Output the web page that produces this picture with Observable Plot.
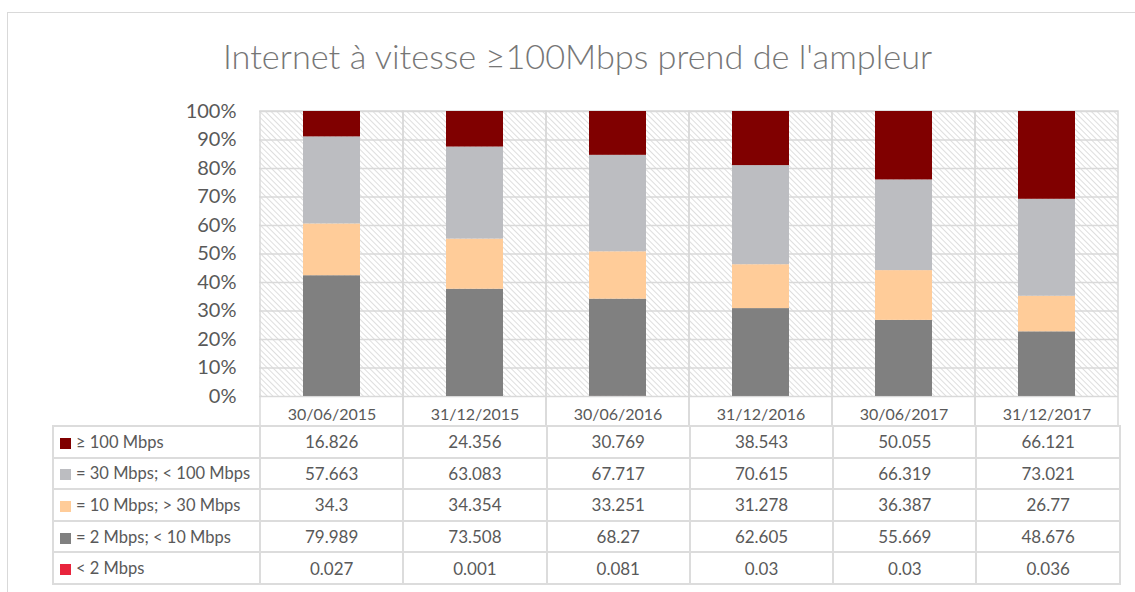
<!DOCTYPE html>
<html><head><meta charset="utf-8">
<script src="https://cdn.jsdelivr.net/npm/d3@7"></script>
<script src="https://cdn.jsdelivr.net/npm/@observablehq/plot@0.6"></script>
<style>
body{margin:0;background:#fff;overflow:hidden;font-family:Lato,"Open Sans",sans-serif;}
#wrap{position:relative;width:1135px;height:592px;overflow:hidden;}
#frame{position:absolute;left:7px;top:12px;width:1200px;height:700px;border:1px solid #d9d9d9;}
#title{position:absolute;left:10px;width:1135px;top:34px;text-align:center;font-size:34.3px;font-weight:300;color:#767676;white-space:nowrap;line-height:44px;}
#chart{position:absolute;left:0;top:90px;}
#tbl{position:absolute;left:52px;top:425px;border-collapse:collapse;table-layout:fixed;font-size:17px;color:#595959;}
#tbl td{border:2px solid #dcdcdc;height:29.6px;padding:0;text-align:center;}
#tbl td.lab{text-align:left;padding-left:6px;white-space:nowrap;font-size:16.5px;}
.key{display:inline-block;width:11px;height:11px;margin-right:5px;vertical-align:-1px;}
</style></head>
<body><div id="wrap"><div id="frame"></div>
<div id="title">Internet à vitesse ≥100Mbps prend de l'ampleur</div>
<div id="chart"></div>
<table id="tbl"></table>
</div>
<script>
const dates = ["30/06/2015","31/12/2015","30/06/2016","31/12/2016","30/06/2017","31/12/2017"];
const seriesNames = ["< 2 Mbps","= 2 Mbps; < 10 Mbps","= 10 Mbps; > 30 Mbps","= 30 Mbps; < 100 Mbps","≥ 100 Mbps"];
const seriesColors = ["#e8243c","#808080","#ffcc99","#bcbdc1","#800000"];
const lt2 = [0.027,0.001,0.081,0.03,0.03,0.036];
const m2to10 = [79.989,73.508,68.27,62.605,55.669,48.676];
const m10to30 = [34.3,34.354,33.251,31.278,36.387,26.77];
const m30to100 = [57.663,63.083,67.717,70.615,66.319,73.021];
const ge100 = [16.826,24.356,30.769,38.543,50.055,66.121];
const yTicks = [0,0.1,0.2,0.3,0.4,0.5,0.6,0.7,0.8,0.9,1];

const seriesValues = [lt2, m2to10, m10to30, m30to100, ge100];
const rows = [];
seriesNames.forEach((s,i)=>dates.forEach((d,j)=>rows.push({date:d, series:s, value:seriesValues[i][j]})));

const chart = Plot.plot({
  width:1135, height:336,
  marginTop:21, marginBottom:30, marginLeft:259, marginRight:17,
  style:{fontFamily:"Lato, 'Open Sans', sans-serif", fontSize:"16px", color:"#595959", background:"transparent"},
  x:{domain:dates, padding:0, label:null},
  y:{domain:[0,1], label:null},
  color:{domain:seriesNames, range:seriesColors},
  marks:[
    Plot.frame({fill:"url(#hatch)", stroke:null}),
    Plot.gridY(yTicks, {stroke:"#d9d9d9", strokeOpacity:1, strokeWidth:1.5}),
    Plot.barY(dates, {x:d=>d, y1:0, y2:1, fill:"none", stroke:"#d9d9d9", strokeWidth:1.5, insetBottom:-30}),
    Plot.barY(rows, Plot.stackY({x:"date", y:"value", z:"series", fill:"series", offset:"normalize", order:null, insetLeft:43, insetRight:43})),
    Plot.axisY(yTicks, {tickSize:0, tickPadding:23, tickFormat:d3.format(".0%"), fontSize:20, label:null}),
    Plot.axisX({tickSize:0, tickPadding:12, label:null, fontSize:16})
  ]
});
const defs = document.createElementNS("http://www.w3.org/2000/svg","defs");
defs.innerHTML = '<pattern id="hatch" patternUnits="userSpaceOnUse" width="4" height="4" patternTransform="rotate(-45)"><rect width="4" height="4" fill="#fff"/><line x1="0" y1="0" x2="0" y2="4" stroke="#d6d6d6" stroke-width="1.6"/></pattern>';
chart.insertBefore(defs, chart.firstChild);
document.getElementById("chart").appendChild(chart);

const tbl = document.getElementById("tbl");
const cg = document.createElement("colgroup");
cg.innerHTML = '<col style="width:207px">' + dates.map(()=> '<col style="width:143.3px">').join("");
tbl.appendChild(cg);
for (let i = seriesNames.length-1; i >= 0; i--) {
  const tr = document.createElement("tr");
  const lab = document.createElement("td");
  lab.className = "lab";
  lab.innerHTML = '<span class="key" style="background:'+seriesColors[i]+'"></span>';
  lab.appendChild(document.createTextNode(seriesNames[i]));
  tr.appendChild(lab);
  seriesValues[i].forEach(v=>{const td=document.createElement("td"); td.textContent=String(v); tr.appendChild(td);});
  tbl.appendChild(tr);
}
</script>
</body></html>
